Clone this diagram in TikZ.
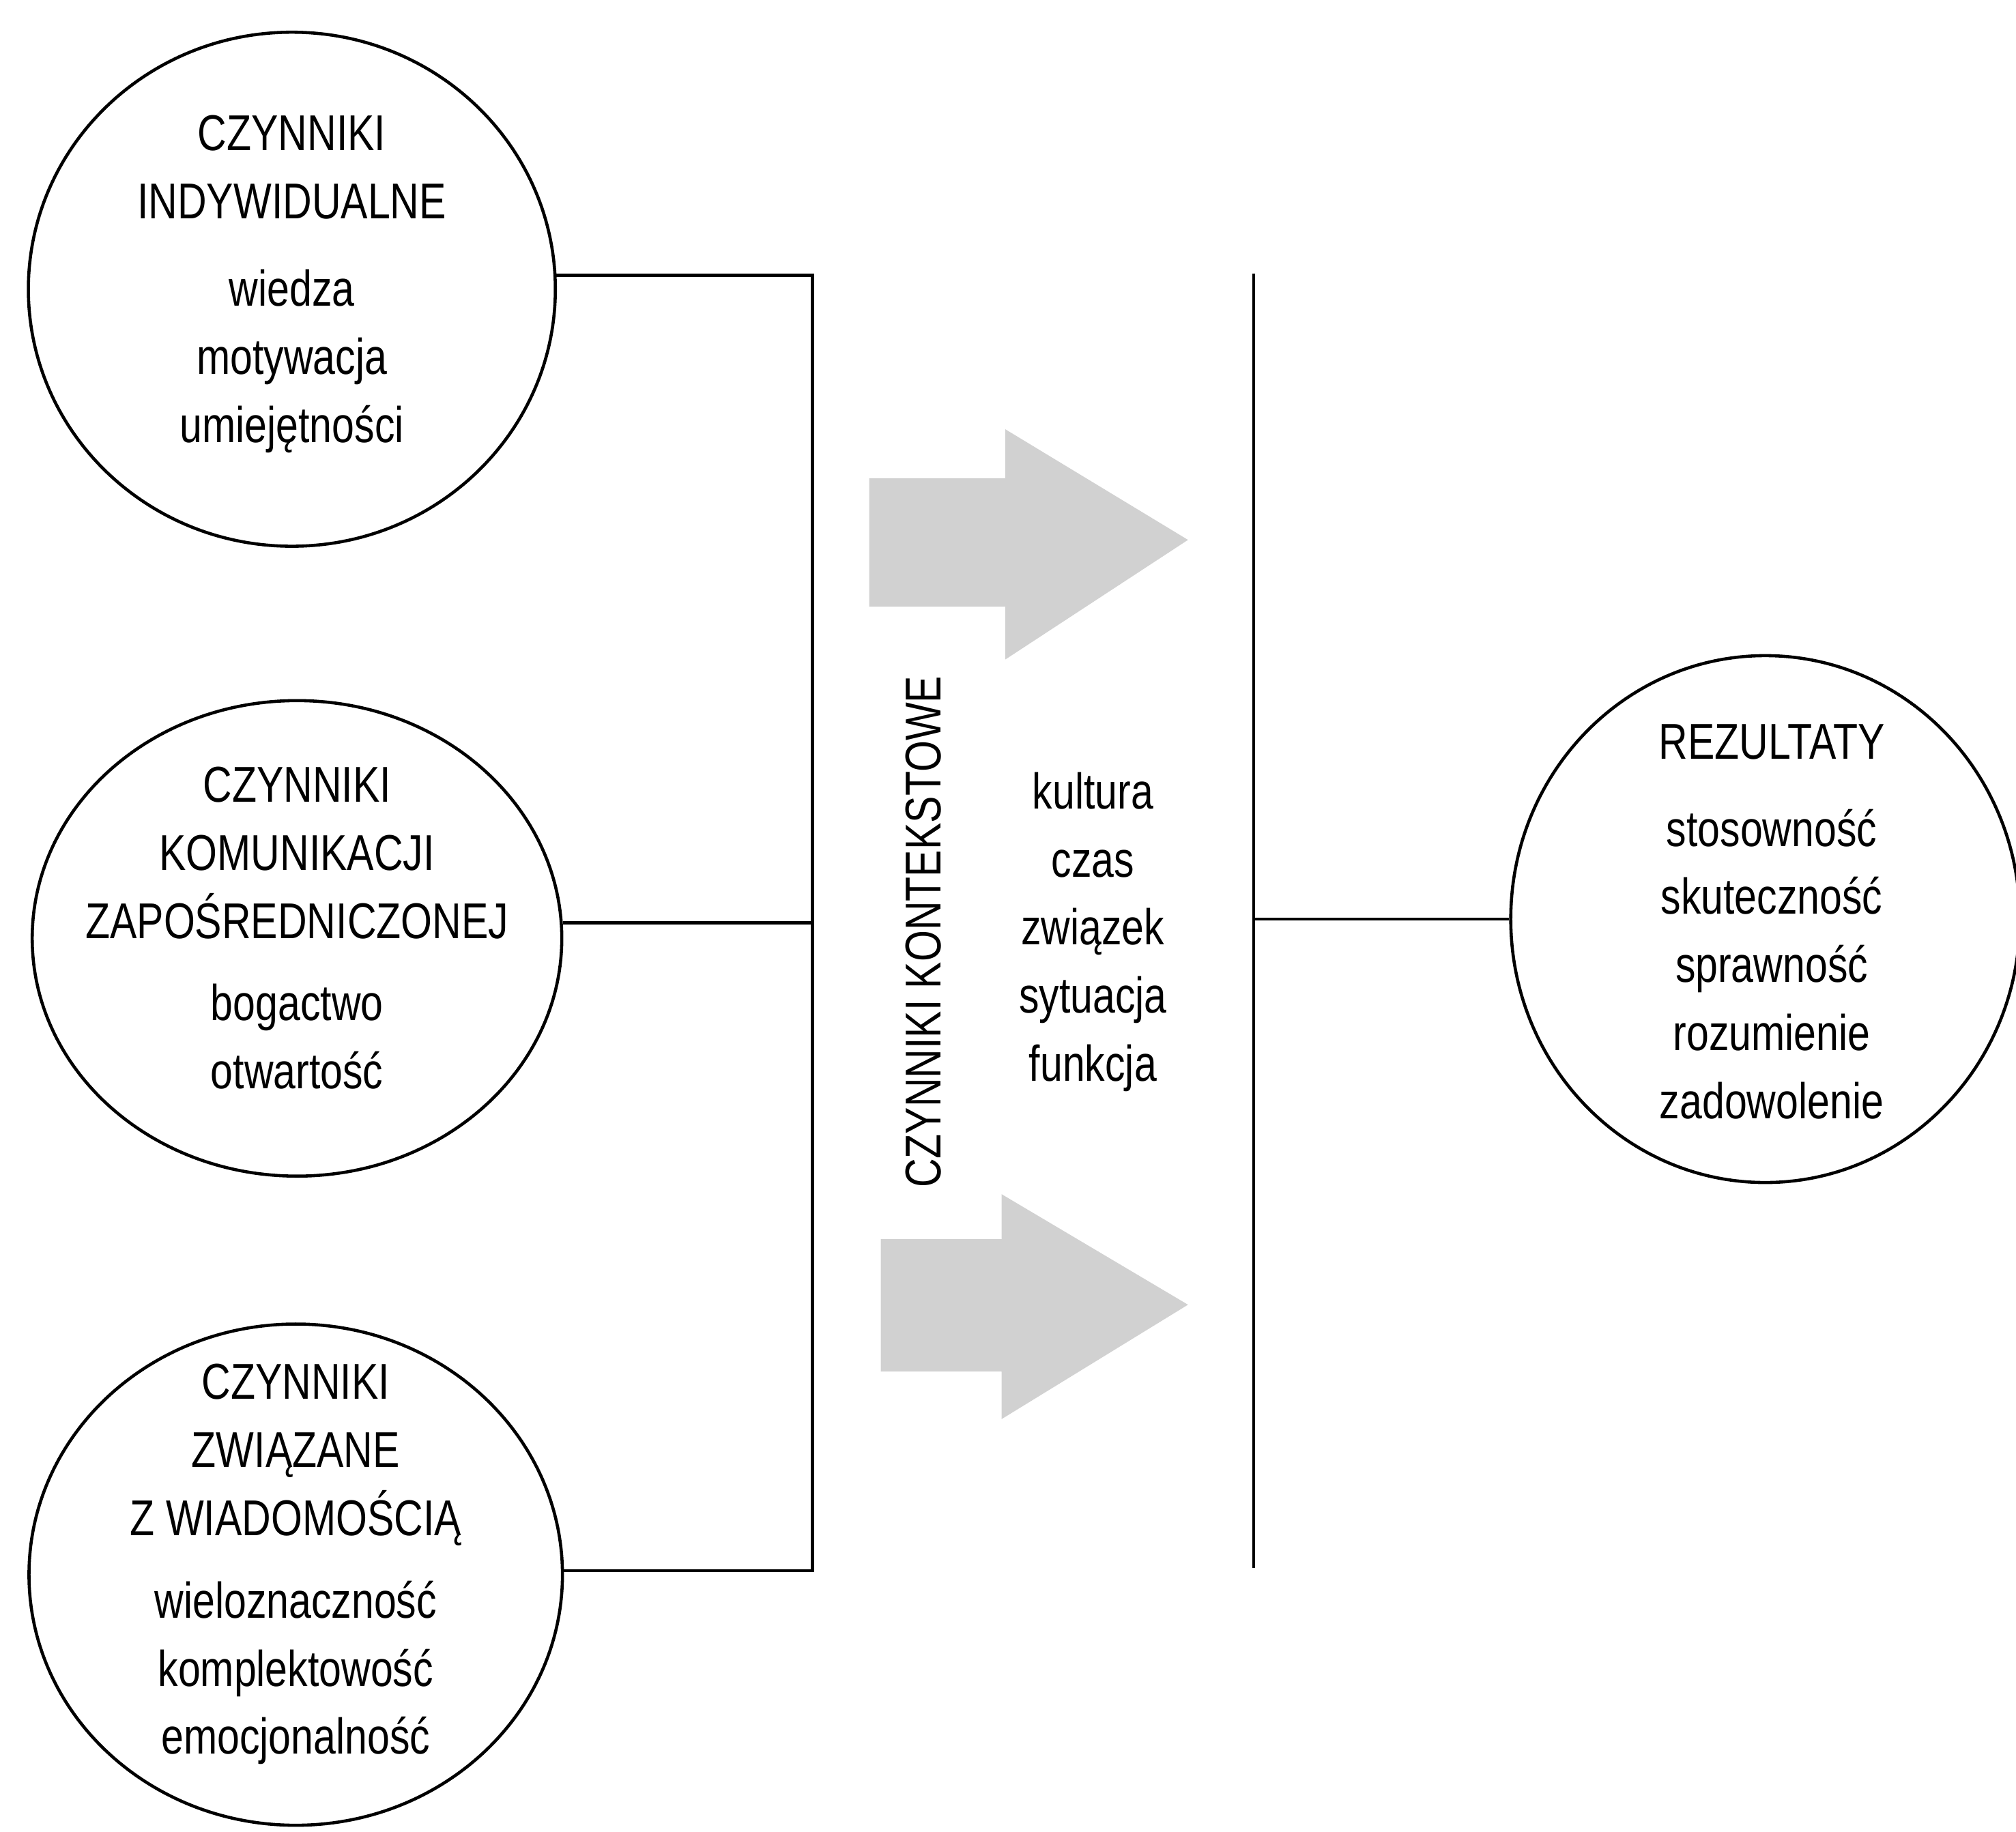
\documentclass[tikz,border=0pt]{standalone}
\usepackage{fontspec}
\setmainfont{Liberation Sans}[FakeStretch=0.8]
\usetikzlibrary{shapes.geometric}
\begin{document}
\begin{tikzpicture}[x=0.01884cm, y=-0.01884cm,
  circ/.style={ellipse, draw, line width=1.3pt, inner sep=0pt},
  conn/.style={line width=1.3pt},
  txt/.style={align=center, inner sep=0pt, font=\fontsize{21}{28.4}\selectfont},
  arrowfill/.style={fill=black!18}]
\useasboundingbox (0,0) rectangle (1568,1425);

% arrows
\fill[arrowfill] (676,372) -- (782,372) -- (782,334) -- (924,420) -- (782,513) -- (782,472) -- (676,472) -- cycle;
\fill[arrowfill] (685,964) -- (779,964) -- (779,929) -- (924,1015) -- (779,1104) -- (779,1067) -- (685,1067) -- cycle;

\node[circ, minimum width=7.724cm, minimum height=7.536cm] (c1) at (227,225) {};
\node[circ, minimum width=7.762cm, minimum height=6.971cm] (c2) at (231,730) {};
\node[circ, minimum width=7.819cm, minimum height=7.348cm] (c3) at (230,1225) {};
\node[circ, minimum width=7.461cm, minimum height=7.724cm] (r) at (1373,715) {};

\node[txt] (c1t) at (227,221)
  {CZYNNIKI\\INDYWIDUALNE\\[8pt]wiedza\\motywacja\\umiejętności};
\node[txt] (c2t) at (231,722)
  {CZYNNIKI\\KOMUNIKACJI\\ZAPOŚREDNICZONEJ\\[6pt]bogactwo\\otwartość};
\node[txt] (c3t) at (230,1217)
  {CZYNNIKI\\ZWIĄZANE\\Z WIADOMOŚCIĄ\\[6pt]wieloznaczność\\komplektowość\\emocjonalność};
\node[txt] (rt) at (1378,717)
  {REZULTATY\\[8pt]stosowność\\skuteczność\\sprawność\\rozumienie\\zadowolenie};

\node[txt, rotate=90] (ck) at (718,725) {CZYNNIKI KONTEKSTOWE};
\node[txt] (kc) at (850,725) {kultura\\czas\\związek\\sytuacja\\funkcja};

\coordinate (j2) at (632,718);
\coordinate (j3) at (632,1222);
\coordinate (vt) at (975,213);
\coordinate (vb) at (975,1220);

\draw[conn] (c1.3) -| (j3) -- (c3.east |- j3);
\draw[conn] (c2.east |- j2) -- (j2);
\draw[conn] (vt) -- (vb);
\draw[conn] (vt |- r.west) -- (r.west);
\end{tikzpicture}
\end{document}
